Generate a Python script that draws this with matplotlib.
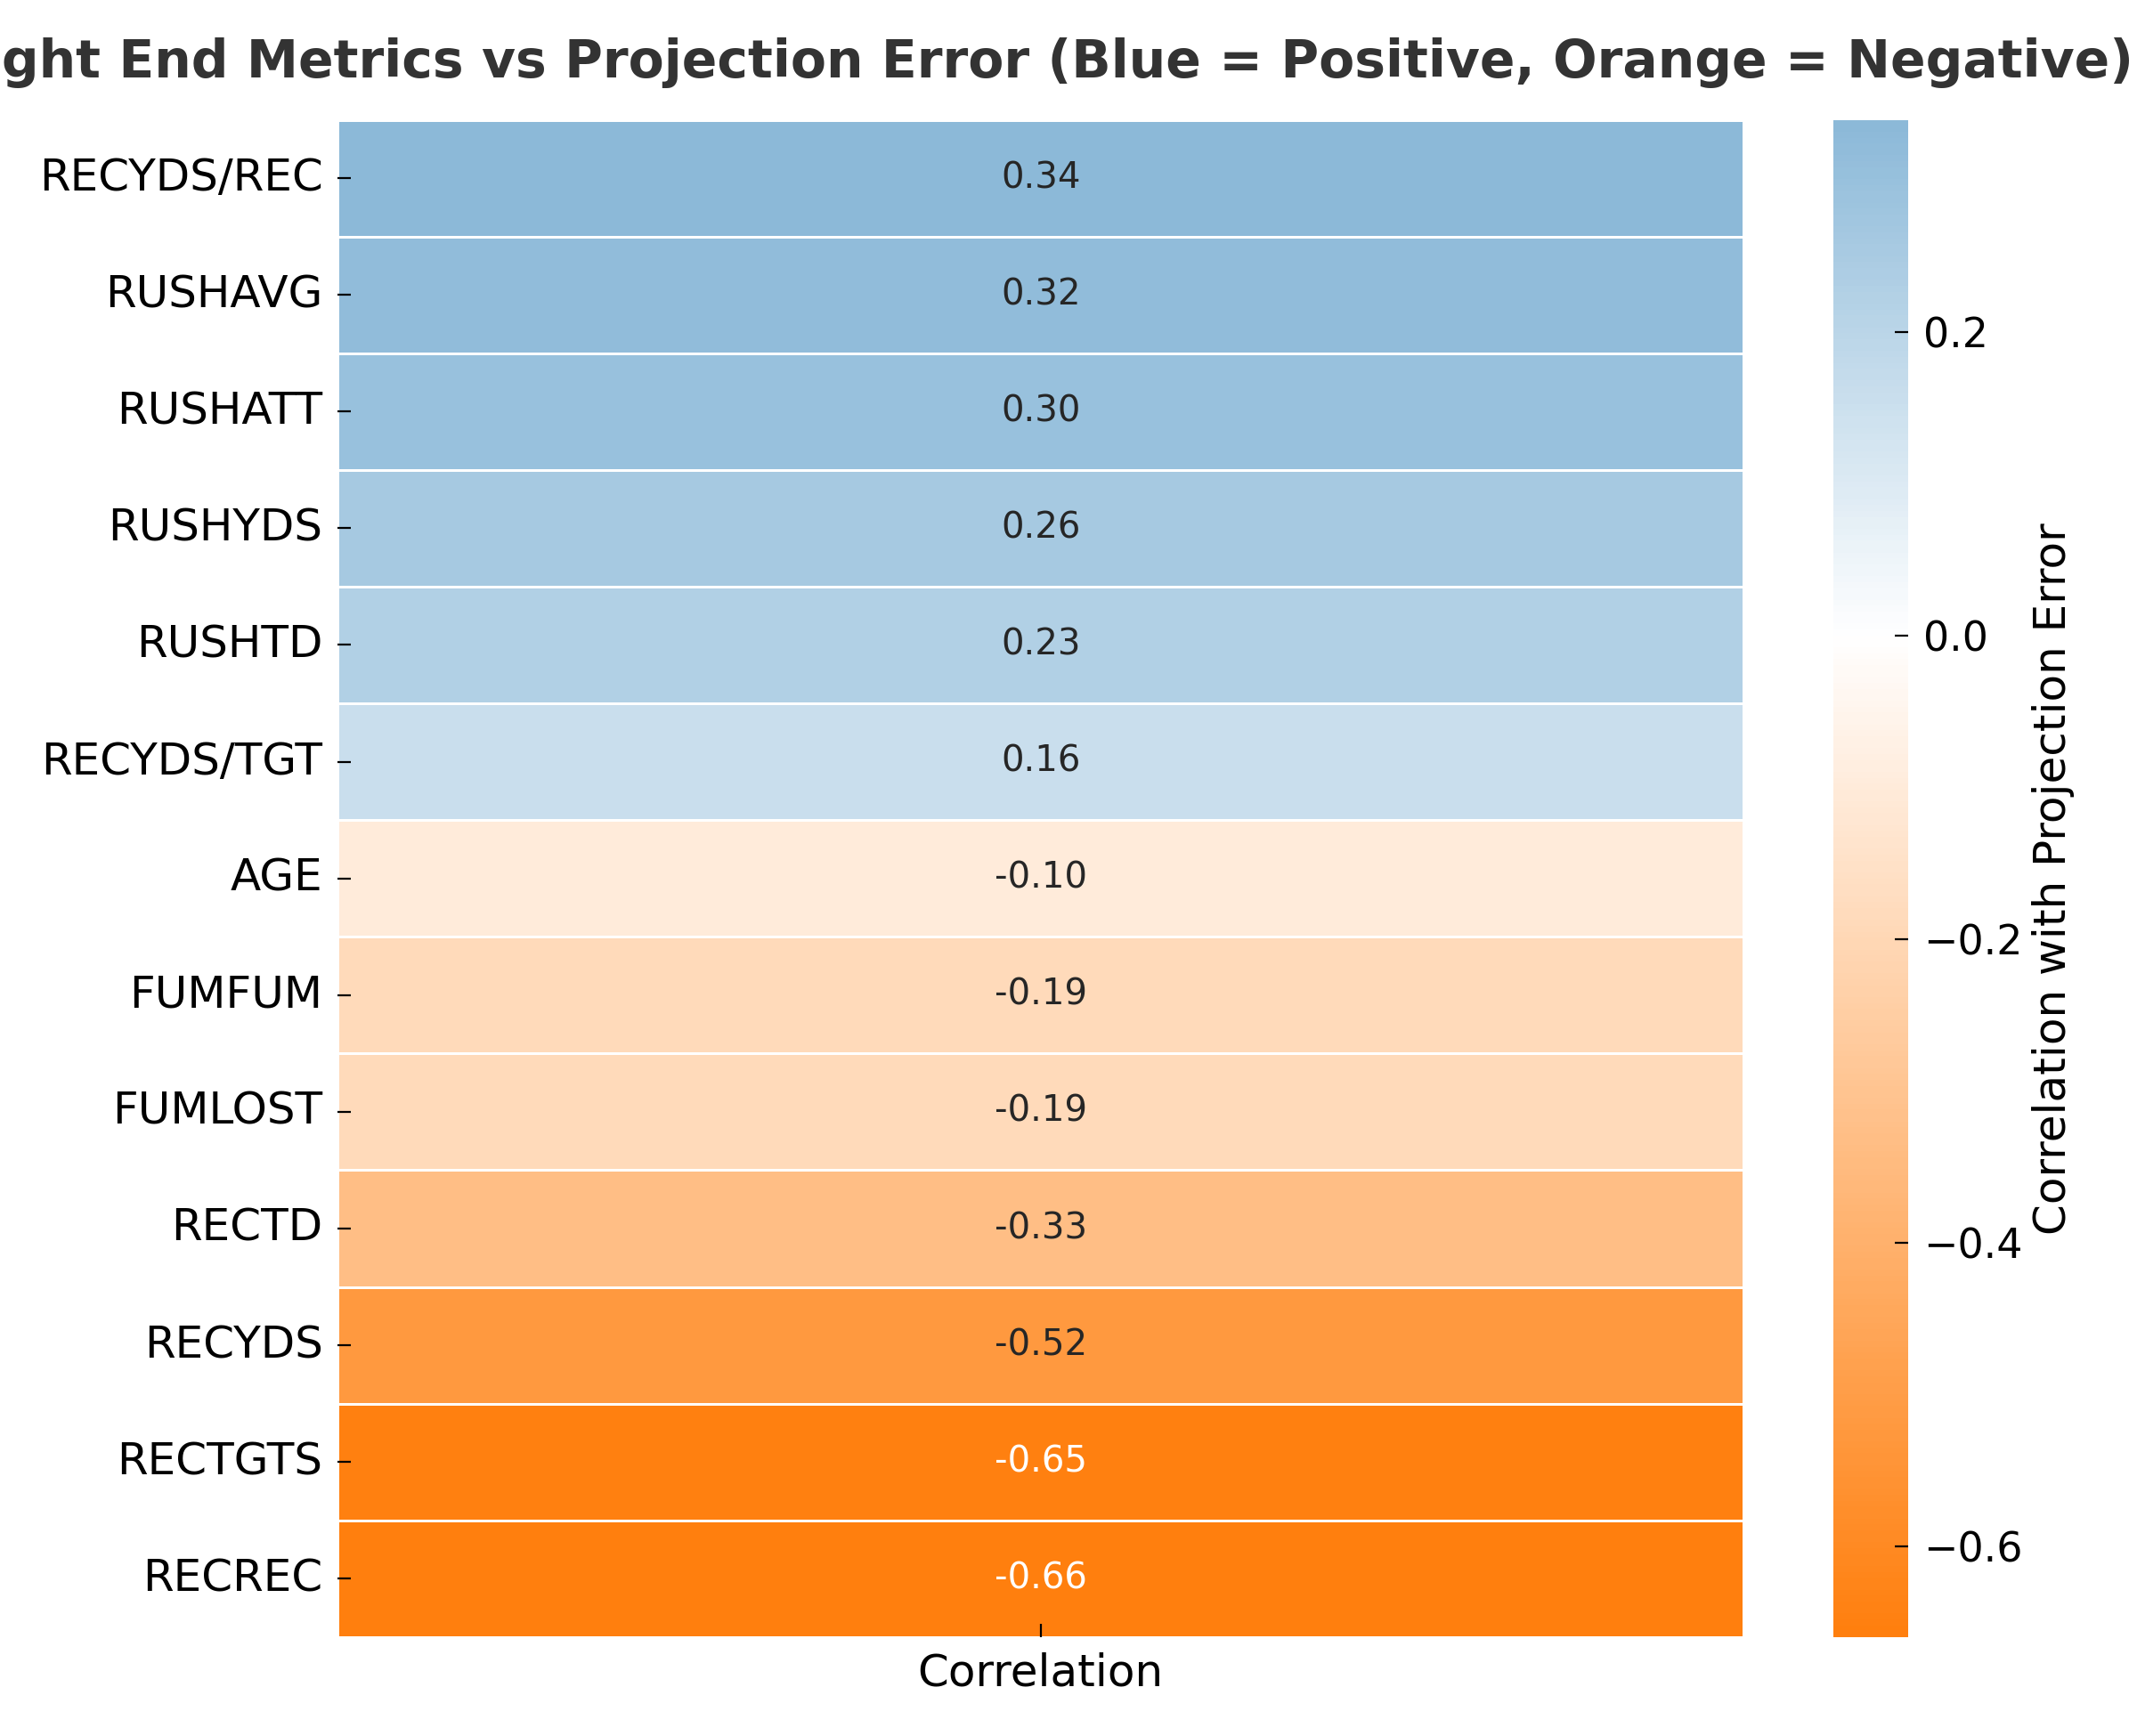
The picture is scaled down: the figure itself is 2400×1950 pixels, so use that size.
import matplotlib
matplotlib.use("Agg")
import matplotlib.pyplot as plt
import seaborn as sns
import pandas as pd
from matplotlib.colors import LinearSegmentedColormap

# 数据
metrics = ["RECYDS/REC", "RUSHAVG", "RUSHATT", "RUSHYDS", "RUSHTD", "RECYDS/TGT",
           "AGE", "FUMFUM", "FUMLOST", "RECTD", "RECYDS", "RECTGTS", "RECREC"]
corr_values = [0.34, 0.32, 0.30, 0.26, 0.23, 0.16,
               -0.10, -0.19, -0.19, -0.33, -0.52, -0.65, -0.66]

df = pd.DataFrame({"Correlation": corr_values}, index=metrics)

# 刻度朝内
plt.rcParams['xtick.direction'] = 'in'
plt.rcParams['ytick.direction'] = 'in'
plt.rcParams['xtick.major.size'] = 5.5
plt.rcParams['ytick.major.size'] = 5.5
plt.rcParams['xtick.major.pad'] = 6
plt.rcParams['ytick.major.pad'] = 6

# 橙色 -> 白色 -> 蓝色
cmap = LinearSegmentedColormap.from_list("orange_blue", ["#ff7f0e", "white", "#1f77b4"])

fig = plt.figure(figsize=(12, 9.75), dpi=200)
ax = fig.add_axes([0.158, 0.057, 0.658, 0.874])
cax = fig.add_axes([0.858, 0.057, 0.035, 0.874])

sns.heatmap(df, annot=True, fmt=".2f", cmap=cmap, center=0,
            linewidths=1, linecolor="white", ax=ax, cbar_ax=cax,
            annot_kws={"size": 14.5},
            cbar_kws={"label": "Correlation with Projection Error"})

ax.set_title("Tight End Metrics vs Projection Error (Blue = Positive, Orange = Negative)",
             fontsize=21, fontweight="bold", color="#333333", pad=17)
ax.tick_params(axis="y", labelsize=18, rotation=0)
ax.tick_params(axis="x", labelsize=18)
cax.tick_params(labelsize=16.5)
cax.yaxis.label.set_size(18)

fig.savefig("out.png", dpi=200)
